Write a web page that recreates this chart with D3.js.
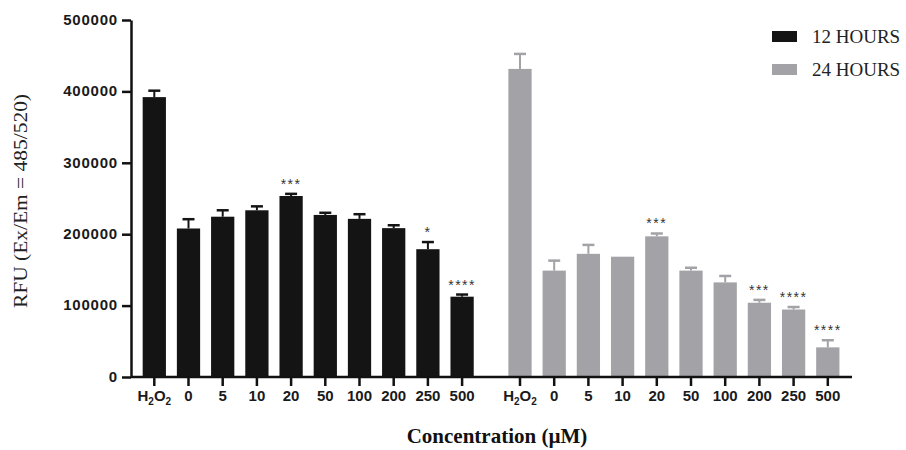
<!DOCTYPE html>
<html lang="en">
<head>
    <meta charset="UTF-8">
    <title>RFU by concentration</title>
    <script src="https://cdn.jsdelivr.net/npm/d3@7"></script>
    <style>
        body, html {
            margin: 0;
            padding: 0;
            background: #fff;
            overflow: hidden;
        }
        svg {
            display: block;
        }
    </style>
</head>
<body>
    <svg id="mainsvg"></svg>
    <script>
        // 数据
        const concentrations = ['H2O2', '0', '5', '10', '20', '50', '100', '200', '250', '500'];
        const rfu12 = [392000, 208000, 224500, 233500, 253500, 227000, 221500, 208500, 179000, 112500];
        const err12 = [9000, 13000, 9000, 5500, 3000, 3000, 6500, 4000, 10000, 3000];
        const rfu24 = [431500, 149000, 172500, 168500, 197000, 149000, 132500, 104000, 94500, 41500];
        const err24 = [21000, 14000, 12500, 0, 4000, 4000, 9000, 4000, 3500, 10000];
        const sig12 = ['', '', '', '', '***', '', '', '', '*', '****'];
        const sig24 = ['', '', '', '', '***', '', '', '***', '****', '****'];
        const yTicks = [0, 100000, 200000, 300000, 400000, 500000];
        const seriesNames = ['12 HOURS', '24 HOURS'];
        const seriesColors = ['#141414', '#a3a3a7'];

        const width = 906, height = 450;
        const svg = d3.select('svg').attr('width', width).attr('height', height);

        const sansFont = "'Liberation Sans', Arial, sans-serif";
        const serifFont = "'Liberation Serif', 'Times New Roman', serif";

        // 绝对坐标，不用平移的group
        const x0 = 131, yTop = 20, yBottom = 377, axisEnd = 852;

        const yScale = d3.scaleLinear().domain([0, 500000]).range([yBottom, yTop]);

        // 两组各用一个band scale
        const groups = [
            { values: rfu12, errs: err12, sig: sig12, color: seriesColors[0],
              x: d3.scaleBand().domain(concentrations).range([137.2, 479.2]).paddingInner(0.32).paddingOuter(0.16) },
            { values: rfu24, errs: err24, sig: sig24, color: seriesColors[1],
              x: d3.scaleBand().domain(concentrations).range([502.9, 844.9]).paddingInner(0.32).paddingOuter(0.16) }
        ];

        const labelLayer = svg.append('g').attr('class', 'labels');

        groups.forEach(grp => {
            const data = concentrations.map((c, i) => ({ c, v: grp.values[i], e: grp.errs[i], s: grp.sig[i] }));
            const layer = svg.append('g');
            const cx = d => grp.x(d.c) + grp.x.bandwidth() / 2;

            // 误差线（只画上半部分）
            const eb = data.filter(d => d.e > 0);
            layer.selectAll('.err').data(eb).enter().append('line')
                .attr('x1', cx).attr('x2', cx)
                .attr('y1', d => yScale(d.v)).attr('y2', d => yScale(d.v + d.e))
                .attr('stroke', grp.color).attr('stroke-width', 2);
            layer.selectAll('.cap').data(eb).enter().append('line')
                .attr('x1', d => cx(d) - 6).attr('x2', d => cx(d) + 6)
                .attr('y1', d => yScale(d.v + d.e)).attr('y2', d => yScale(d.v + d.e))
                .attr('stroke', grp.color).attr('stroke-width', 2.5);

            layer.selectAll('rect').data(data).enter().append('rect')
                .attr('x', d => grp.x(d.c))
                .attr('width', grp.x.bandwidth())
                .attr('y', d => yScale(d.v))
                .attr('height', d => yBottom - yScale(d.v))
                .attr('fill', grp.color);

            // 显著性星号
            layer.selectAll('.sig').data(data.filter(d => d.s)).enter().append('text')
                .attr('x', cx)
                .attr('y', d => yScale(d.v + d.e) - 5)
                .attr('text-anchor', 'middle')
                .attr('font-family', sansFont)
                .attr('font-size', '14px')
                .attr('letter-spacing', '1.5px')
                .attr('fill', '#333')
                .text(d => d.s);

            // x轴
            const xAxis = d3.axisBottom(grp.x).tickSize(9).tickSizeOuter(0);
            const xg = svg.append('g')
                .attr('transform', `translate(0, ${yBottom})`)
                .call(xAxis);
            xg.select('.domain').remove();
            xg.selectAll('.tick line').attr('stroke', '#111').attr('stroke-width', 2.5);
            // 把刻度文字移到不带平移的图层里
            xg.selectAll('.tick text').each(function(d) {
                const node = this;
                const t = labelLayer.append(() => node)
                    .attr('x', grp.x(d) + grp.x.bandwidth() / 2)
                    .attr('y', yBottom + 13)
                    .attr('text-anchor', 'middle')
                    .attr('font-family', sansFont)
                    .attr('font-size', '15px')
                    .attr('font-weight', 'bold')
                    .attr('fill', '#1a1a1a');
                if (d === 'H2O2') {
                    t.text('');
                    t.append('tspan').text('H');
                    t.append('tspan').text('2').attr('font-size', '10px').attr('dy', '4');
                    t.append('tspan').text('O').attr('dy', '-4');
                    t.append('tspan').text('2').attr('font-size', '10px').attr('dy', '4');
                }
            });
        });

        // x轴主线
        svg.append('line')
            .attr('x1', x0).attr('x2', axisEnd)
            .attr('y1', yBottom).attr('y2', yBottom)
            .attr('stroke', '#111').attr('stroke-width', 2.5);

        // y轴
        const yAxis = d3.axisLeft(yScale).tickValues(yTicks).tickFormat(d3.format('d')).tickSize(9).tickSizeOuter(0);
        const yg = svg.append('g')
            .attr('transform', `translate(${x0}, 0)`)
            .call(yAxis);
        yg.select('.domain').attr('stroke', '#111').attr('stroke-width', 2.5);
        yg.selectAll('.tick line').attr('stroke', '#111').attr('stroke-width', 2.5);
        yg.selectAll('.tick text').each(function(d) {
            const node = this;
            labelLayer.append(() => node)
                .attr('x', x0 - 13)
                .attr('y', yScale(d))
                .attr('text-anchor', 'end')
                .attr('font-family', sansFont)
                .attr('font-size', '15px')
                .attr('font-weight', 'bold')
                .attr('letter-spacing', '0.8px')
                .attr('fill', '#1a1a1a');
        });
        labelLayer.raise();

        // 轴标题
        svg.append('text')
            .attr('transform', 'rotate(-90)')
            .attr('x', -201).attr('y', 27)
            .attr('text-anchor', 'middle')
            .attr('font-family', serifFont)
            .attr('font-size', '19px')
            .attr('textLength', 214)
            .attr('lengthAdjust', 'spacingAndGlyphs')
            .attr('fill', '#222')
            .text('RFU (Ex/Em = 485/520)');

        svg.append('text')
            .attr('x', 497).attr('y', 443)
            .attr('text-anchor', 'middle')
            .attr('font-family', serifFont)
            .attr('font-weight', 'bold')
            .attr('font-size', '21px')
            .attr('fill', '#111')
            .text('Concentration (\u00b5M)');

        // 图例
        const legend = svg.append('g');
        seriesNames.forEach((name, i) => {
            const ly = 31 + i * 33;
            legend.append('rect').attr('x', 772).attr('y', ly).attr('width', 25).attr('height', 11).attr('fill', seriesColors[i]);
            legend.append('text')
                .attr('x', 812).attr('y', ly + 12)
                .attr('font-family', serifFont)
                .attr('font-size', '19px')
                .attr('fill', '#222')
                .text(name);
        });
    </script>
</body>
</html>
